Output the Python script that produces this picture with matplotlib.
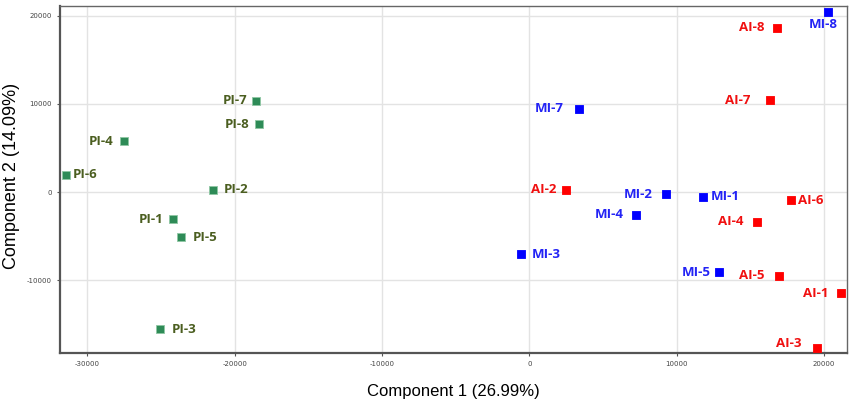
import matplotlib.pyplot as plt

plt.rcParams['axes.unicode_minus'] = False

# PCA scores
pi_names = ['PI-1', 'PI-2', 'PI-3', 'PI-4', 'PI-5', 'PI-6', 'PI-7', 'PI-8']
pi_x = [-24170, -21480, -25050, -27480, -23610, -31430, -18540, -18320]
pi_y = [-3100, 260, -15570, 5750, -5140, 1960, 10350, 7680]

mi_names = ['MI-1', 'MI-2', 'MI-3', 'MI-4', 'MI-5', 'MI-7', 'MI-8']
mi_x = [11800, 9270, -580, 7240, 12870, 3390, 20290]
mi_y = [-530, -230, -7060, -2570, -9100, 9440, 20370]

ai_names = ['AI-1', 'AI-2', 'AI-3', 'AI-4', 'AI-5', 'AI-6', 'AI-7', 'AI-8']
ai_x = [21170, 2490, 19500, 15470, 16960, 17740, 16310, 16830]
ai_y = [-11490, 260, -17650, -3370, -9490, -950, 10400, 18630]

# label placement (offset in points from the marker, horizontal alignment)
pi_lab = [(-7, 0, 'right'), (8, 0, 'left'), (8, 0, 'left'), (-8, 0, 'right'),
          (8, 0, 'left'), (5, 0, 'left'), (-6, 0, 'right'), (-7, 0, 'right')]
mi_lab = [(5, 0, 'left'), (-10, 0, 'right'), (8, 0, 'left'), (-9, 0, 'right'),
          (-6, 0, 'right'), (-11, 0, 'right'), (-4, -9, 'center')]
ai_lab = [(-9, 0, 'right'), (-7, 0, 'right'), (-11, 3, 'right'), (-10, 0, 'right'),
          (-11, 0, 'right'), (5, 0, 'left'), (-14, 0, 'right'), (-9, 0, 'right')]

fig, ax = plt.subplots(figsize=(8.51, 4.0), dpi=100)
fig.subplots_adjust(left=0.0705, right=0.995, bottom=0.118, top=0.985)

groups = [
    (pi_names, pi_x, pi_y, pi_lab, '#2e8b57', '#8fc7a4', '#4b5e20', 36),
    (mi_names, mi_x, mi_y, mi_lab, '#0000ff', '#0000ff', '#2323f5', 28),
    (ai_names, ai_x, ai_y, ai_lab, '#ff0000', '#ff0000', '#f01010', 28),
]
for names, xs, ys, labs, fc, ec, tc, size in groups:
    ax.scatter(xs, ys, marker='s', s=size, c=fc, edgecolors=ec, linewidths=0.6, zorder=3)
    for n, x, y, (dx, dy, ha) in zip(names, xs, ys, labs):
        ax.annotate(n, (x, y), xytext=(dx, dy), textcoords='offset points',
                    ha=ha, va='center', fontsize=9.5, fontweight='bold',
                    family='Open Sans', color=tc, zorder=4)

ax.set_xlim(-31850, 21530)
ax.set_ylim(-18220, 21090)
ax.set_xticks([-30000, -20000, -10000, 0, 10000, 20000])
ax.set_yticks([-10000, 0, 10000, 20000])
ax.grid(True, color='#e3e3e3', linewidth=1.0)
ax.set_axisbelow(True)

ax.tick_params(labelsize=5, colors='#555555', length=2.5, width=0.8, labelcolor='#444444')
for side in ['left', 'bottom']:
    ax.spines[side].set_color('#555555')
    ax.spines[side].set_linewidth(1.6)
for side in ['top', 'right']:
    ax.spines[side].set_color('#666666')
    ax.spines[side].set_linewidth(1.0)

ax.set_xlabel('Component 1 (26.99%)', fontsize=12, family='Liberation Sans', labelpad=12)
ax.set_ylabel('Component 2 (14.09%)', fontsize=13, family='Liberation Sans')
ax.yaxis.set_label_coords(-0.051, 0.51)

fig.savefig('out.png', dpi=100)
